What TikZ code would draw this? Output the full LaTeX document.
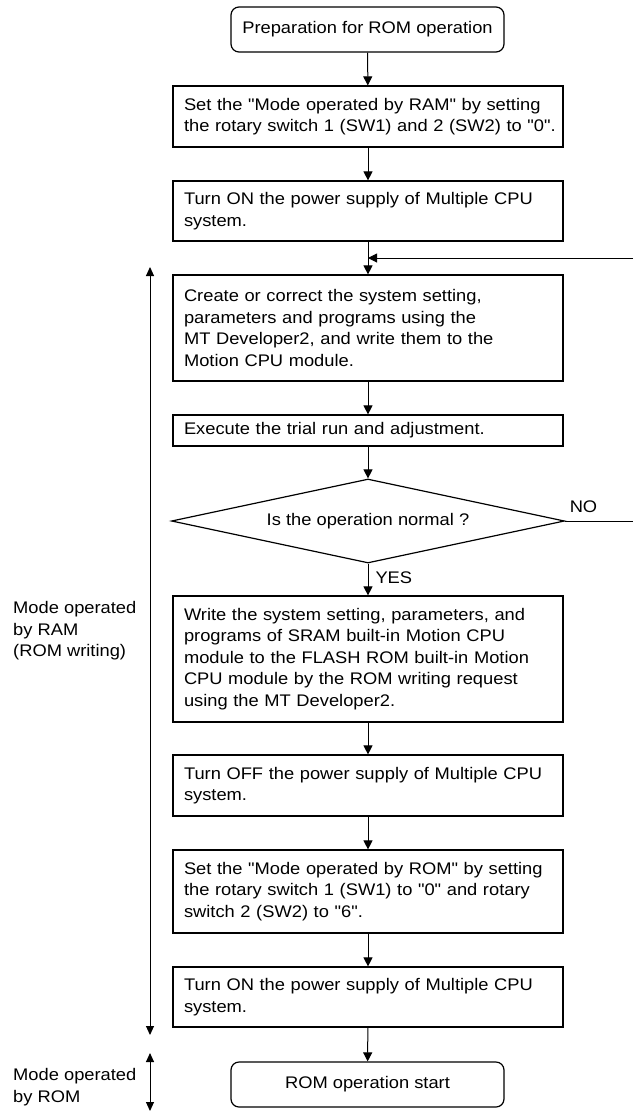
\documentclass[tikz,border=0pt]{standalone}
\usepackage{fontspec}
\setmainfont{Liberation Sans}[FakeStretch=1.09,Ligatures=TeXOff]
\usetikzlibrary{arrows.meta,shapes.geometric}
\begin{document}
\begin{tikzpicture}[x=1pt,y=-1pt,
  every node/.style={font=\fontsize{16.8}{21.5}\selectfont},
  stepbox/.style={draw,line width=1.2pt,text width=378pt,inner xsep=6pt,inner ysep=0pt,align=left},
  termbox/.style={draw,line width=1.2pt,rounded corners=8pt,minimum width=273pt,minimum height=45pt,inner sep=0pt,align=center},
  decision/.style={draw,diamond,line width=1.2pt,minimum width=393pt,minimum height=84pt,inner sep=0pt,aspect=4.7},
  flow/.style={line width=1pt,-{Triangle[length=9pt,width=9pt]}},
  plain/.style={line width=1pt},
  both/.style={line width=1pt,{Triangle[length=9pt,width=8pt]}-{Triangle[length=9pt,width=8pt]}},
  lbl/.style={inner sep=0pt,anchor=west,align=left}]
\useasboundingbox (0,0) rectangle (633,1111);

\node[termbox] (start) at (367.5,29.5) {Preparation for ROM operation};
\node[stepbox,minimum height=61pt] (b1) at (368,116.5) {\hspace*{5pt}Set the "Mode operated by RAM" by setting\\\hspace*{5pt}the rotary switch 1 (SW1) and 2 (SW2) to "0".};
\node[stepbox,minimum height=60pt] (b2) at (368,211) {\hspace*{5pt}Turn ON the power supply of Multiple CPU\\\hspace*{5pt}system.};
\coordinate (j) at (368,258);
\node[stepbox,minimum height=106pt] (b3) at (368,328) {\hspace*{5pt}Create or correct the system setting,\\\hspace*{5pt}parameters and programs using the\\\hspace*{5pt}MT Developer2, and write them to the\\\hspace*{5pt}Motion CPU module.};
\node[stepbox,minimum height=31pt] (b4) at (368,430.5) {\hspace*{5pt}Execute the trial run and adjustment.};
\node[decision] (d) at (368,521) {Is the operation normal ?};
\node[stepbox,minimum height=126pt] (b5) at (368,659) {\hspace*{5pt}Write the system setting, parameters, and\\\hspace*{5pt}programs of SRAM built-in Motion CPU\\\hspace*{5pt}module to the FLASH ROM built-in Motion\\\hspace*{5pt}CPU module by the ROM writing request\\\hspace*{5pt}using the MT Developer2.};
\node[stepbox,minimum height=61pt] (b6) at (368,785.5) {\hspace*{5pt}Turn OFF the power supply of Multiple CPU\\\hspace*{5pt}system.};
\node[stepbox,minimum height=83pt] (b7) at (368,891.5) {\hspace*{5pt}Set the "Mode operated by ROM" by setting\\\hspace*{5pt}the rotary switch 1 (SW1) to "0" and rotary\\\hspace*{5pt}switch 2 (SW2) to "6".};
\node[stepbox,minimum height=60pt] (b8) at (368,997) {\hspace*{5pt}Turn ON the power supply of Multiple CPU\\\hspace*{5pt}system.};
\node[termbox] (end) at (367.5,1084.5) {ROM operation start};

\draw[flow] (start) -- (b1);
\draw[flow] (b1) -- (b2);
\draw[plain] (b2) -- (j);
\draw[flow] (j) -- (b3);
\draw[flow] (b3) -- (b4);
\draw[flow] (b4) -- (d);
\draw[flow] (d) -- node[lbl,pos=0.45,xshift=7pt] (yes) {YES} (b5);
\draw[flow] (b5) -- (b6);
\draw[flow] (b6) -- (b7);
\draw[flow] (b7) -- (b8);
\draw[flow] (b8) -- (end);

\coordinate (noend) at (633,521);
\coordinate (back) at (633,258);
\draw[plain] (d.east) -- (noend);
\node[inner sep=0pt] (no) at (583.5,507) {NO};
\draw[flow] (back) -- (j);

\coordinate (ramtop) at (150,267);
\coordinate (rambot) at (150,1035);
\coordinate (romtop) at (150,1053);
\coordinate (rombot) at (150,1111);
\draw[both] (rambot) -- (ramtop);
\draw[both] (rombot) -- (romtop);
\node[lbl] (ramtext) at (13,631) {Mode operated\\by RAM\\(ROM writing)};
\node[lbl] (romtext) at (13,1087) {Mode operated\\by ROM};
\end{tikzpicture}
\end{document}
